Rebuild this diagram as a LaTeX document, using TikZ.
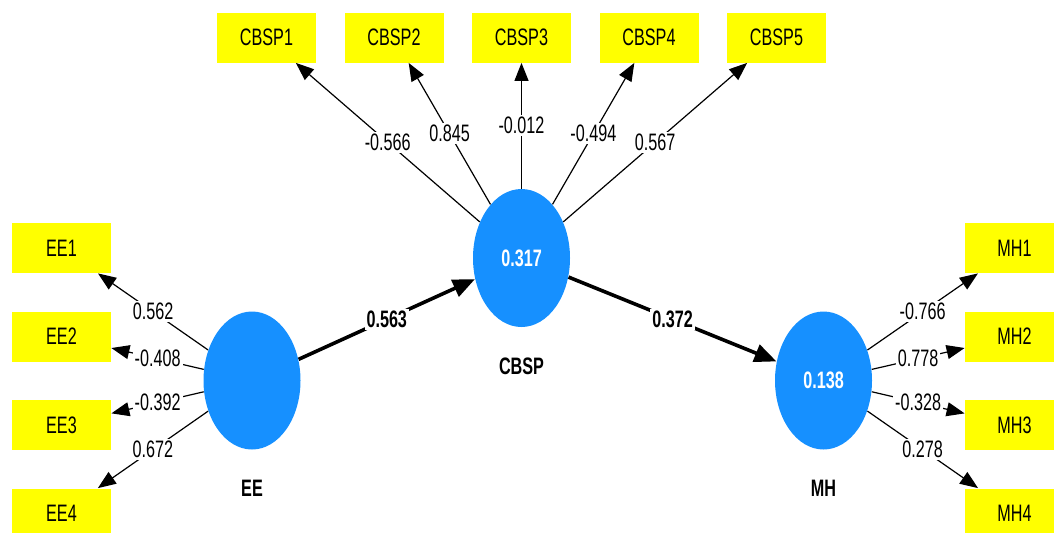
\documentclass[tikz,border=0pt]{standalone}
\usepackage{fontspec}
\setmainfont{Liberation Sans}[FakeStretch=0.68]
\usepackage{xcolor}
\usetikzlibrary{arrows.meta, shapes.geometric, positioning}

\definecolor{indyellow}{RGB}{255,255,0}
\definecolor{lvblue}{RGB}{22,144,255}
\newcommand{\plsfont}{\fontsize{11.9}{14}\selectfont}

\begin{document}
\begin{tikzpicture}[x=0.5pt, y=-0.5pt,
    indicator/.style={fill=indyellow, minimum width=49.5pt, minimum height=25pt, inner sep=0pt, font=\plsfont},
    construct/.style={ellipse, fill=lvblue, minimum width=48.5pt, minimum height=69pt, inner sep=0pt, text=white, font=\plsfont\bfseries},
    lvname/.style={inner sep=0pt, font=\plsfont\bfseries},
    loading/.style={-{Triangle[length=9pt, width=7pt]}, line width=0.6pt},
    structural/.style={-{Triangle[length=11pt, width=9pt]}, line width=1.8pt},
    coef/.style={fill=white, inner sep=1pt, font=\plsfont}]

    % --- 1. CANVAS ---
    \useasboundingbox (0,0) rectangle (1054,532);
    \clip (0,0) rectangle (1054,532);

    % --- 2. LATENT VARIABLES ---
    \node[construct] (cbsp) at (521.5,258) {0.317};
    \node[construct] (ee) at (252,380.5) {};
    \node[construct] (mh) at (823.5,380.5) {0.138};

    \node[lvname, below=15pt of cbsp] (cbspname) {CBSP};
    \node[lvname, below=15pt of ee] (eename) {EE};
    \node[lvname, below=15pt of mh] (mhname) {MH};

    % --- 3. INDICATORS ---
    \foreach \i in {1,...,5}{
        \node[indicator] (cbsp\i) at ({521.5+127.5*(\i-3)},37.5) {CBSP\i};
    }
    \foreach \i in {1,...,4}{
        \node[indicator] (ee\i) at (61.5,{248+88.5*(\i-1)}) {EE\i};
        \node[indicator] (mh\i) at (1014.5,{248+88.5*(\i-1)}) {MH\i};
    }

    % --- 4. OUTER LOADINGS ---
    \foreach \i/\val in {1/-0.566, 2/0.845, 3/-0.012, 4/-0.494, 5/0.567}{
        \draw[loading] (cbsp) -- node[coef] {\val} (cbsp\i);
    }
    \foreach \i/\val in {1/0.562, 2/-0.408, 3/-0.392, 4/0.672}{
        \draw[loading] (ee) -- node[coef] {\val} (ee\i);
    }
    \foreach \i/\val in {1/-0.766, 2/0.778, 3/-0.328, 4/0.278}{
        \draw[loading] (mh) -- node[coef] {\val} (mh\i);
    }

    % --- 5. PATH COEFFICIENTS ---
    \draw[structural] (ee) -- node[coef, font=\plsfont\bfseries] {0.563} (cbsp);
    \draw[structural] (cbsp) -- node[coef, font=\plsfont\bfseries] {0.372} (mh);

\end{tikzpicture}
\end{document}
